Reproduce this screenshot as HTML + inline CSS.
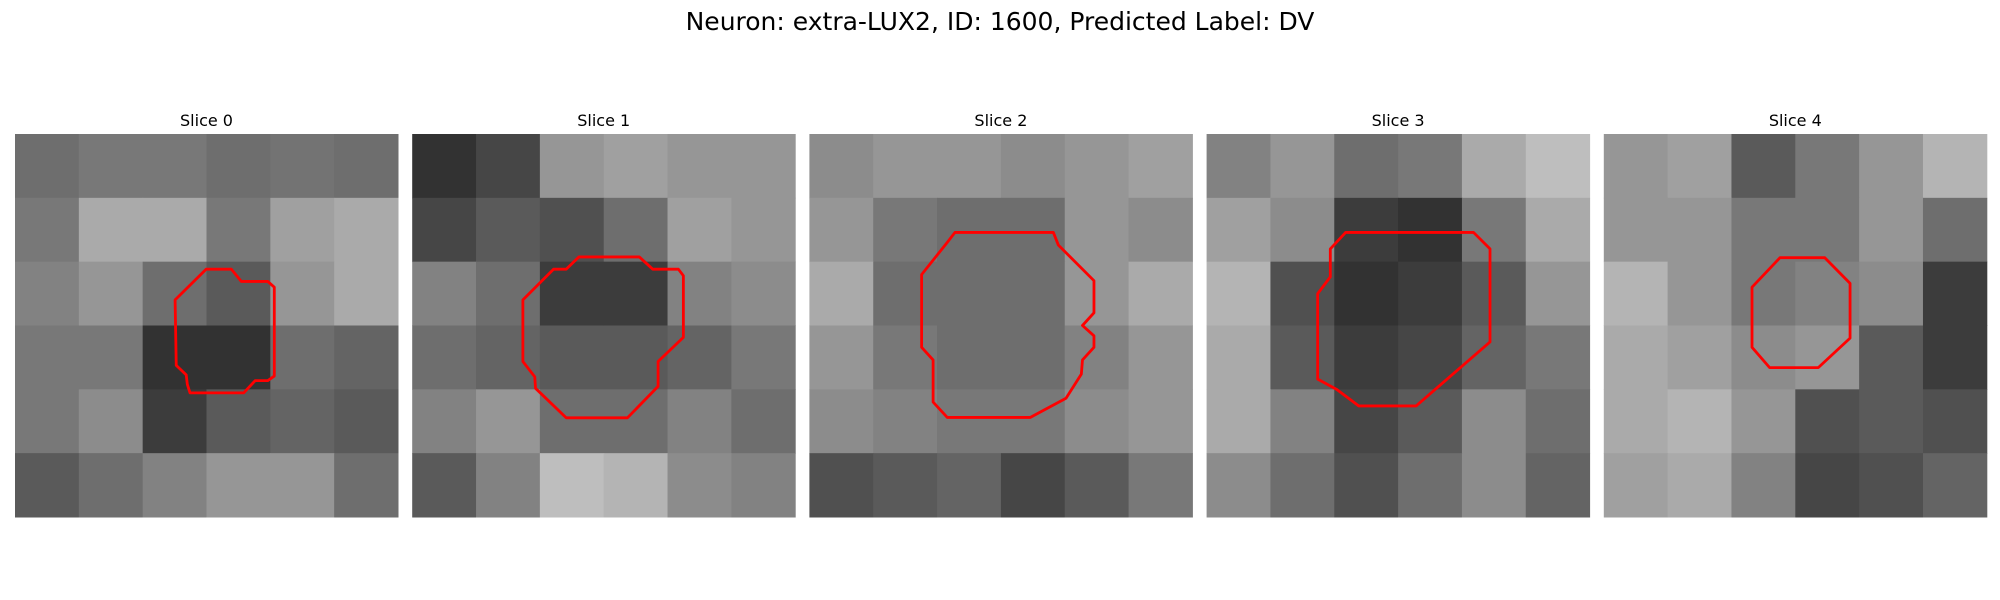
<!DOCTYPE html>
<html><head><meta charset="utf-8"><style>
html,body{margin:0;padding:0;background:#fff;width:2000px;height:600px;overflow:hidden}
text{font-family:"DejaVu Sans","Liberation Sans",sans-serif}
</style></head><body>
<svg id="fig" width="2000" height="600" xmlns="http://www.w3.org/2000/svg">
<rect width="2000" height="600" fill="#fff"/>
<text x="1000" y="30" font-size="25" text-anchor="middle" fill="#000">Neuron: extra-LUX2, ID: 1600, Predicted Label: DV</text>
</svg>
<script>
const sliceTitles = ["Slice 0","Slice 1","Slice 2","Slice 3","Slice 4"];
const slice0 = [[110,120,120,110,115,110],[120,170,170,120,160,170],[130,150,110,90,150,170],[120,120,50,50,110,100],[120,140,60,90,100,90],[90,110,130,150,150,110]];
const slice1 = [[50,70,150,160,150,150],[70,90,80,110,160,150],[130,110,60,60,130,140],[110,100,90,90,100,120],[130,150,110,110,130,110],[90,130,190,180,140,130]];
const slice2 = [[140,150,150,140,150,160],[150,120,110,110,150,140],[170,110,110,110,150,170],[150,120,110,110,130,150],[140,130,120,120,140,150],[80,90,100,70,90,120]];
const slice3 = [[130,150,110,120,170,190],[160,140,60,50,120,170],[180,80,50,60,90,150],[170,90,60,70,100,120],[170,130,70,90,140,110],[140,110,80,110,140,100]];
const slice4 = [[150,160,90,120,150,180],[150,150,120,120,150,110],[180,150,120,130,140,60],[170,160,140,150,90,60],[170,180,150,80,90,80],[160,170,130,70,80,100]];
const contour0 = [[0.418,0.433],[0.499,0.353],[0.565,0.353],[0.591,0.385],[0.660,0.385],[0.677,0.400],[0.677,0.632],[0.660,0.644],[0.627,0.644],[0.597,0.676],[0.457,0.676],[0.450,0.654],[0.447,0.629],[0.421,0.604]];
const contour1 = [[0.289,0.433],[0.369,0.353],[0.402,0.353],[0.435,0.321],[0.593,0.321],[0.628,0.353],[0.695,0.353],[0.708,0.370],[0.708,0.531],[0.642,0.594],[0.642,0.659],[0.562,0.741],[0.402,0.741],[0.322,0.664],[0.320,0.634],[0.289,0.594]];
const contour2 = [[0.293,0.367],[0.36,0.283],[0.38,0.257],[0.637,0.257],[0.65,0.29],[0.743,0.383],[0.743,0.467],[0.713,0.5],[0.743,0.527],[0.743,0.557],[0.713,0.59],[0.71,0.627],[0.67,0.69],[0.577,0.74],[0.36,0.74],[0.323,0.7],[0.323,0.59],[0.293,0.557]];
const contour3 = [[0.29,0.417],[0.323,0.373],[0.323,0.3],[0.363,0.257],[0.697,0.257],[0.74,0.3],[0.74,0.543],[0.547,0.71],[0.397,0.71],[0.34,0.667],[0.29,0.64]];
const contour4 = [[0.387,0.4],[0.46,0.323],[0.577,0.323],[0.643,0.39],[0.643,0.533],[0.56,0.61],[0.433,0.61],[0.387,0.557]];

const slices = [slice0,slice1,slice2,slice3,slice4];
const contours = [contour0,contour1,contour2,contour3,contour4];
const NS = "http://www.w3.org/2000/svg";
const svg = document.getElementById("fig");
const panelX = i => 15 + i*397.2;
const panelY = 134, panelSize = 383;
slices.forEach((grid,i)=>{
  const g = document.createElementNS(NS,"g");
  
  
  svg.appendChild(g);
  const t = document.createElementNS(NS,"text");
  t.setAttribute("x", panelX(i)+panelSize/2); t.setAttribute("y", 126);
  t.setAttribute("font-size","16"); t.setAttribute("text-anchor","middle");
  t.textContent = sliceTitles[i];
  
  
  g.appendChild(t);
  const n = grid.length, c = panelSize/n;
  grid.forEach((row,r)=>row.forEach((v,k)=>{
    const rc = document.createElementNS(NS,"rect");
    rc.setAttribute("x", panelX(i)+k*c); rc.setAttribute("y", panelY+r*c);
    rc.setAttribute("width", c+0.5); rc.setAttribute("height", c+0.5);
    rc.setAttribute("fill", `rgb(${v},${v},${v})`);
    
    
    g.appendChild(rc);
  }));
  const p = document.createElementNS(NS,"polygon");
  p.setAttribute("points", contours[i].map(([x,y])=>(panelX(i)+x*panelSize)+","+(panelY+y*panelSize)).join(" "));
  p.setAttribute("fill","none"); p.setAttribute("stroke","#ff0000"); p.setAttribute("stroke-width","2.8");
  p.setAttribute("stroke-linejoin","round");
  
  
  g.appendChild(p);
});
</script>
</body></html>
